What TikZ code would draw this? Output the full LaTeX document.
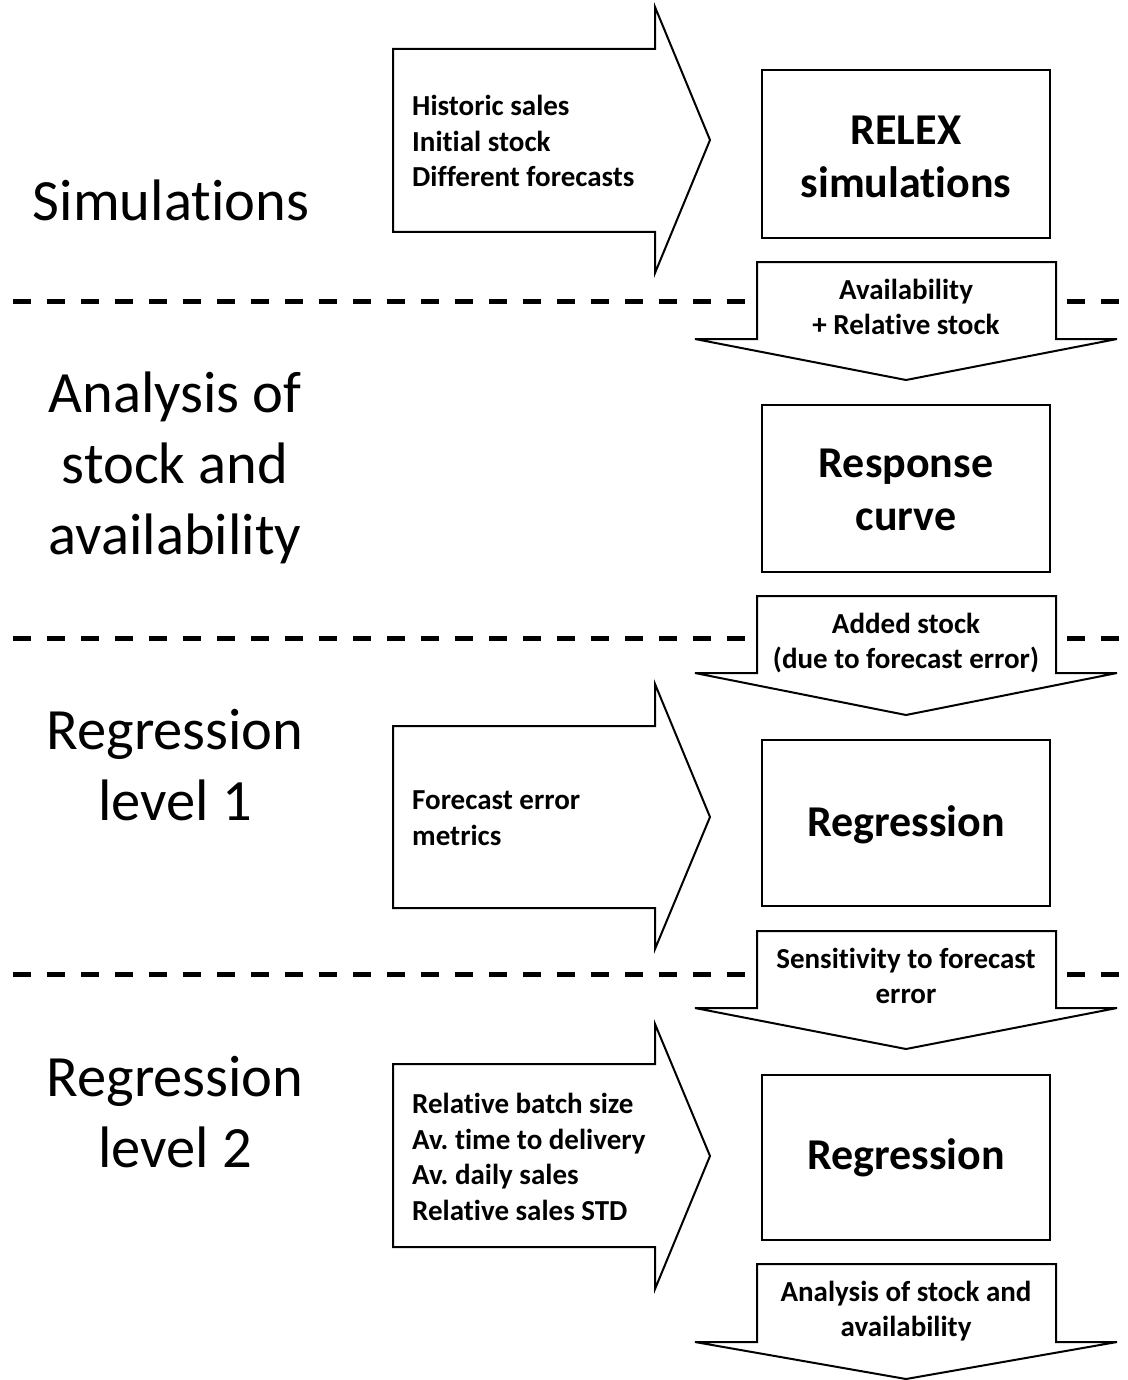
\documentclass[tikz,border=0pt]{standalone}
\usepackage{fontspec}
\setmainfont{Carlito}[Ligatures={NoCommon}]
\begin{document}
\frenchspacing
\begin{tikzpicture}[x=1pt,y=-1pt,
  blockshape/.style={draw=black,line width=2pt,fill=white,line join=miter},
  sep/.style={line width=5pt,dash pattern=on 18pt off 16pt},
  stage/.style={inner sep=0pt,align=center,font=\fontsize{58.5}{71}\selectfont},
  boxlabel/.style={inner sep=0pt,align=center,font=\bfseries\fontsize{44}{53}\selectfont},
  inlabel/.style={inner sep=0pt,anchor=west,align=left,font=\bfseries\fontsize{29}{35.5}\selectfont},
  downlabel/.style={inner sep=0pt,align=center,font=\bfseries\fontsize{29}{35.5}\selectfont}]
\useasboundingbox (0,0) rectangle (1127,1380);
% separators
\draw[sep] (13,301) -- (1127,301);
\draw[sep] (13,638) -- (1127,638);
\draw[sep] (13,974) -- (1127,974);
% right (input) arrows
\draw[blockshape] (393,49) -- (655,49) -- (655,7) -- (710,140) -- (655,273) -- (655,232) -- (393,232) -- cycle;
\draw[blockshape] (393,726) -- (655,726) -- (655,684) -- (710,817) -- (655,949) -- (655,908) -- (393,908) -- cycle;
\draw[blockshape] (393,1064) -- (655,1064) -- (655,1024) -- (710,1156) -- (655,1289) -- (655,1247) -- (393,1247) -- cycle;
% down arrows
\draw[blockshape] (757,262) -- (1056,262) -- (1056,339) -- (1117,339) -- (906,380) -- (695,339) -- (757,339) -- cycle;
\draw[blockshape] (757,596) -- (1056,596) -- (1056,673) -- (1117,673) -- (906,715) -- (695,673) -- (757,673) -- cycle;
\draw[blockshape] (757,931) -- (1056,931) -- (1056,1008) -- (1117,1008) -- (906,1049) -- (695,1008) -- (757,1008) -- cycle;
\draw[blockshape] (757,1264) -- (1056,1264) -- (1056,1342) -- (1117,1342) -- (906,1379) -- (695,1342) -- (757,1342) -- cycle;
% boxes
\draw[blockshape] (762,70) rectangle (1050,238);
\draw[blockshape] (762,405) rectangle (1050,572);
\draw[blockshape] (762,740) rectangle (1050,906);
\draw[blockshape] (762,1075) rectangle (1050,1240);
% stage labels
\node[stage] (s1) at (171,200) {Simulations};
\node[stage] (s2) at (175,468) {Analysis of\\stock and\\availability};
\node[stage] (s3) at (175,765) {Regression\\level 1};
\node[stage] (s4) at (175,1112) {Regression\\level 2};
% box labels
\node[boxlabel] (b1) at (906,157) {RELEX\\simulations};
\node[boxlabel] (b2) at (906,490) {Response\\curve};
\node[boxlabel] (b3) at (906,825) {Regression};
\node[boxlabel] (b4) at (906,1158) {Regression};
% input labels
\node[inlabel] (i1) at (412,141) {Historic sales\\Initial stock\\Different forecasts};
\node[inlabel] (i2) at (412,818) {Forecast error\\metrics};
\node[inlabel] (i3) at (412,1157) {Relative batch size\\Av. time to delivery\\Av. daily sales\\Relative sales STD};
% down labels
\node[downlabel] (d1) at (906,307) {Availability\\+ Relative stock};
\node[downlabel] (d2) at (906,643) {Added stock\\(due to forecast error)};
\node[downlabel] (d3) at (906,976) {Sensitivity to forecast\\error};
\node[downlabel] (d4) at (906,1311) {Analysis of stock and\\availability};
\end{tikzpicture}
\end{document}
